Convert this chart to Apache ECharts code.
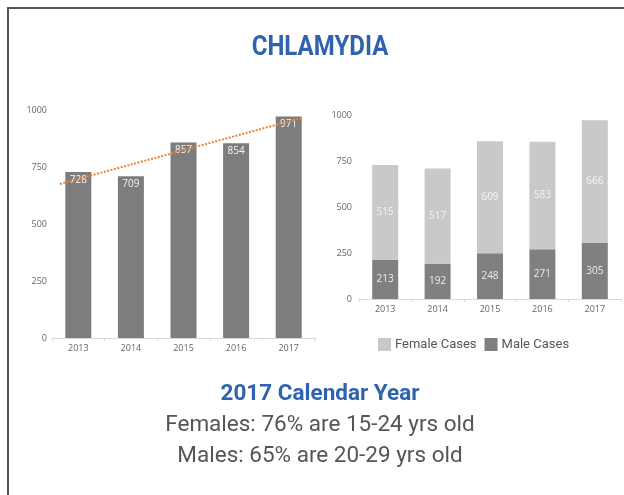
<!DOCTYPE html>
<html>
<head>
<meta charset="utf-8">
<script src="https://cdn.jsdelivr.net/npm/echarts@6/dist/echarts.min.js"></script>
<style>
  html, body { margin: 0; padding: 0; background: #fff; }
  #chart { width: 624px; height: 495px; }
</style>
</head>
<body>
<div id="chart"></div>
<script>
// Chlamydia cases by calendar year
const years = ['2013', '2014', '2015', '2016', '2017'];
const totalCases = [728, 709, 857, 854, 971];
const femaleCases = [515, 517, 609, 583, 666];
const maleCases = [213, 192, 248, 271, 305];
const yTicks = [0, 250, 500, 750, 1000];

// Least-squares linear trend of the totals, drawn as a dotted line
function linearTrend(values) {
  const n = values.length;
  const mx = (n - 1) / 2;
  const my = values.reduce((a, b) => a + b, 0) / n;
  let num = 0, den = 0;
  values.forEach((v, i) => { num += (i - mx) * (v - my); den += (i - mx) * (i - mx); });
  const slope = num / den;
  return x => my + slope * (x - mx);
}
const trend = linearTrend(totalCases);
const trendStart = -0.35, trendEnd = 4.25;
const trendPoints = [[trendStart, trend(trendStart)], [trendEnd, trend(trendEnd)]];

const tickFont = { color: '#666', fontSize: 9, fontFamily: 'Open Sans' };
const axisGray = '#d9d9d9';

const chart = echarts.init(document.getElementById('chart'), null, { renderer: 'canvas' });

chart.setOption({
  backgroundColor: '#fff',
  animation: false,
  graphic: [
    { type: 'rect', shape: { x: 8, y: 8, width: 640, height: 520 }, style: { fill: 'none', stroke: '#555', lineWidth: 2 } },
    { type: 'text', x: 320, y: 48, scaleX: 0.89, originX: 0, originY: 0,
      style: { text: 'CHLAMYDIA', font: 'bold 27px Roboto', fill: '#2F63B0', align: 'center', verticalAlign: 'middle' } },
    { type: 'text', x: 320, y: 394,
      style: { text: '2017 Calendar Year', font: 'bold 22.5px Roboto', fill: '#2F63B0', align: 'center', verticalAlign: 'middle' } },
    { type: 'text', x: 320, y: 425,
      style: { text: 'Females: 76% are 15-24 yrs old', font: '22.5px Roboto', fill: '#555', align: 'center', verticalAlign: 'middle' } },
    { type: 'text', x: 320, y: 456,
      style: { text: 'Males: 65% are 20-29 yrs old', font: '22.5px Roboto', fill: '#555', align: 'center', verticalAlign: 'middle' } }
  ],
  legend: {
    data: ['Female Cases', 'Male Cases'],
    left: 378, top: 338, padding: 0,
    icon: 'rect', itemWidth: 13, itemHeight: 13, itemGap: 8,
    textStyle: { color: '#555', fontSize: 13, fontFamily: 'Roboto', padding: [0, 0, 0, -1] }
  },
  grid: [
    { left: 52, top: 110, width: 263, height: 228 },
    { left: 359, top: 115, width: 262, height: 184 }
  ],
  xAxis: [
    { type: 'category', gridIndex: 0, data: years,
      axisLine: { lineStyle: { color: axisGray } },
      axisTick: { show: true, length: 3, lineStyle: { color: axisGray } },
      axisLabel: Object.assign({ margin: 6 }, tickFont) },
    { type: 'value', gridIndex: 0, min: -0.5, max: 4.5, show: false },
    { type: 'category', gridIndex: 1, data: years,
      axisLine: { lineStyle: { color: axisGray } },
      axisTick: { show: true, length: 3, lineStyle: { color: axisGray } },
      axisLabel: Object.assign({ margin: 6 }, tickFont) }
  ],
  yAxis: [
    { type: 'value', gridIndex: 0, min: 0, max: 1000, interval: 250,
      axisLine: { show: false }, axisTick: { show: false }, splitLine: { show: false },
      axisLabel: Object.assign({ margin: 5, formatter: v => String(v) }, tickFont) },
    { type: 'value', gridIndex: 1, min: 0, max: 1000, interval: 250,
      axisLine: { show: false }, axisTick: { show: false }, splitLine: { show: false },
      axisLabel: Object.assign({ margin: 7, padding: [0, 0, 14, 0], formatter: v => String(v) }, tickFont) }
  ],
  series: [
    { name: 'Total Cases', type: 'bar', xAxisIndex: 0, yAxisIndex: 0, data: totalCases,
      barWidth: 26, itemStyle: { color: '#7d7d7d' },
      label: { show: true, position: 'insideTop', distance: 3, color: '#f4f4f4', fontSize: 10, fontFamily: 'Open Sans' } },
    { name: 'Trend', type: 'line', xAxisIndex: 1, yAxisIndex: 0, data: trendPoints,
      symbol: 'none', z: 5,
      lineStyle: { color: '#EE8233', width: 2, type: [2, 1.5] } },
    { name: 'Male Cases', type: 'bar', stack: 'sex', xAxisIndex: 2, yAxisIndex: 1, data: maleCases,
      barWidth: 26, itemStyle: { color: '#808080' },
      label: { show: true, position: 'inside', color: '#ececec', fontSize: 10, fontFamily: 'Open Sans' } },
    { name: 'Female Cases', type: 'bar', stack: 'sex', xAxisIndex: 2, yAxisIndex: 1, data: femaleCases,
      barWidth: 26, itemStyle: { color: '#c9c9c9' },
      label: { show: true, position: 'inside', color: '#f4f4f4', fontSize: 10, fontFamily: 'Open Sans' } }
  ]
});
</script>
</body>
</html>
